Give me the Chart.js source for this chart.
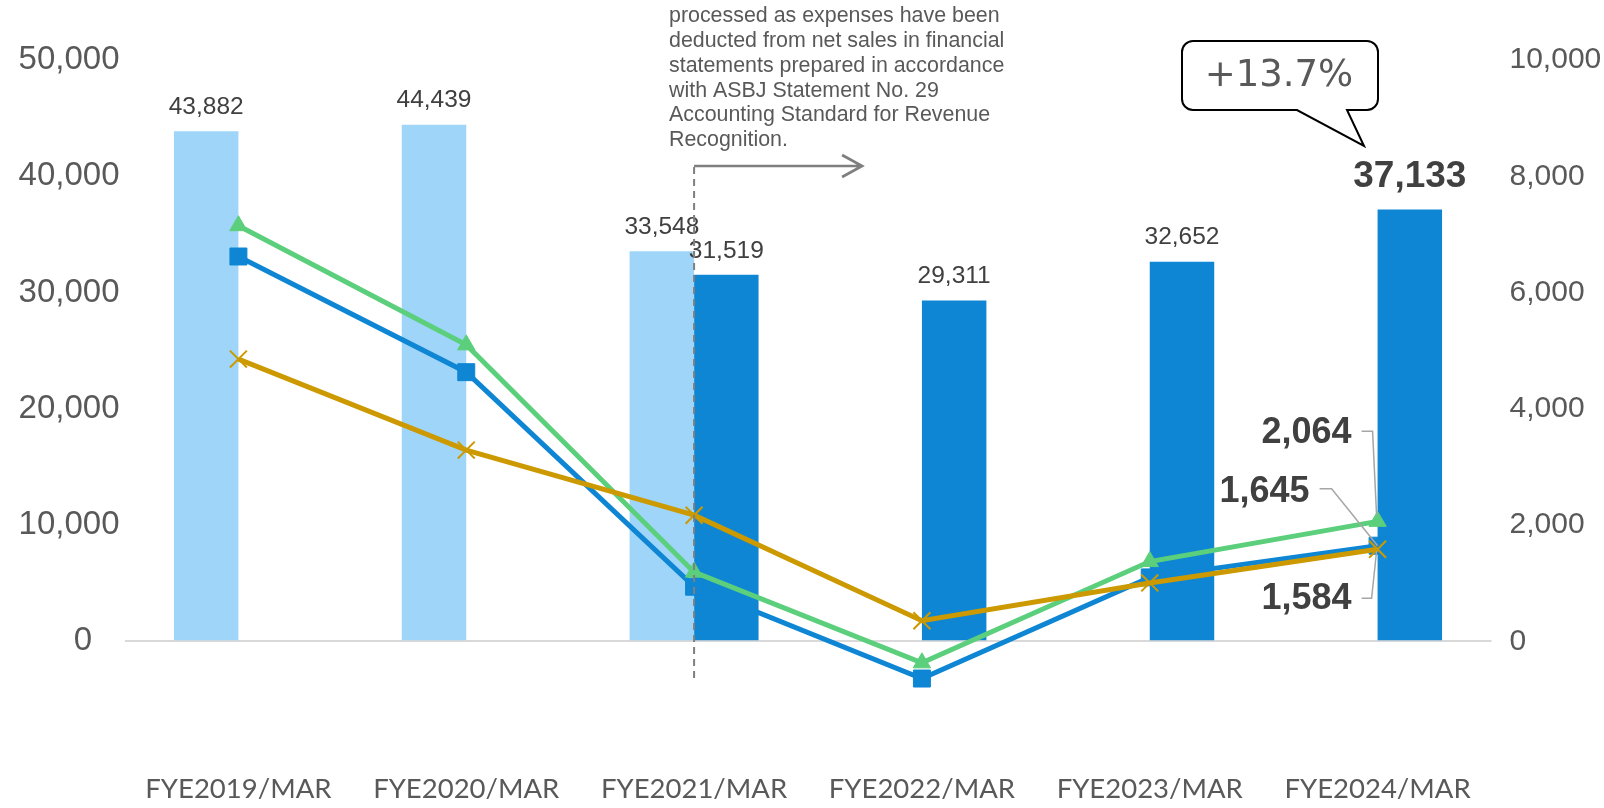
<!DOCTYPE html>
<html>
<head>
<meta charset="utf-8">
<script src="https://cdn.jsdelivr.net/npm/chart.js@4.4.1/dist/chart.umd.min.js"></script>
<style>
  html, body { margin: 0; padding: 0; background: #fff; }
  #wrap { width: 1604px; height: 808px; }
</style>
</head>
<body>
<div id="wrap"><canvas id="chart"></canvas></div>
<script>
// fiscal years on the x axis
const categories = ['FYE2019/MAR', 'FYE2020/MAR', 'FYE2021/MAR', 'FYE2022/MAR', 'FYE2023/MAR', 'FYE2024/MAR'];

// net sales (left axis), old and new revenue standard
const salesOld = [43882, 44439, 33548, null, null, null];
const salesNew = [null, null, 31519, 29311, 32652, 37133];

// profit lines (right axis)
const profitBlue = [6620, 4630, 940, -640, 1100, 1645];
const profitGreen = [7150, 5100, 1190, -370, 1372, 2064];
const profitGold = [4855, 3290, 2170, 355, 1005, 1584];

// axis ranges
const leftRange = [-10000, 50000, 10000];
const rightRange = [-2000, 10000, 2000];

const noteLines = [
  'processed as expenses have been',
  'deducted from net sales in financial',
  'statements prepared in accordance',
  'with ASBJ Statement No. 29',
  'Accounting Standard for Revenue',
  'Recognition.'
];
const growthText = '+13.7%';

const fmt = v => v.toLocaleString('en-US');
const ARIAL = '"Liberation Sans", Arial, sans-serif';

const overlay = {
  id: 'overlay',
  afterDatasetsDraw(chart) {
    const ctx = chart.ctx;
    ctx.save();

    // value labels on bars
    [0, 1].forEach(di => {
      const meta = chart.getDatasetMeta(di);
      const data = chart.data.datasets[di].data;
      meta.data.forEach((bar, i) => {
        if (data[i] == null) return;
        const last = di === 1 && i === data.length - 1;
        ctx.fillStyle = '#404040';
        ctx.textAlign = 'center';
        ctx.textBaseline = 'middle';
        ctx.font = last ? 'bold 37px ' + ARIAL : '24.5px ' + ARIAL;
        ctx.fillText(fmt(data[i]), bar.x, bar.y - (last ? 33 : 24));
      });
    });

    // labels for last line points with leader lines
    const n = categories.length - 1;
    const pt = di => chart.getDatasetMeta(di).data[n];
    const pGreen = pt(3), pBlue = pt(2), pGold = pt(4);
    ctx.strokeStyle = '#a6a6a6';
    ctx.lineWidth = 1.5;
    ctx.beginPath();
    ctx.moveTo(pGreen.x - 16, pGreen.y - 90);
    ctx.lineTo(pGreen.x - 5, pGreen.y - 90);
    ctx.lineTo(pGreen.x - 1, pGreen.y - 6);
    ctx.moveTo(pBlue.x - 58, pBlue.y - 57);
    ctx.lineTo(pBlue.x - 46, pBlue.y - 57);
    ctx.lineTo(pBlue.x, pBlue.y);
    ctx.moveTo(pGold.x - 16, pGold.y + 49);
    ctx.lineTo(pGold.x - 6, pGold.y + 49);
    ctx.lineTo(pGold.x - 1, pGold.y + 2);
    ctx.stroke();

    ctx.fillStyle = '#404040';
    ctx.font = 'bold 36px ' + ARIAL;
    ctx.textAlign = 'right';
    ctx.textBaseline = 'middle';
    ctx.fillText(fmt(profitGreen[n]), pGreen.x - 26, pGreen.y - 88);
    ctx.fillText(fmt(profitBlue[n]), pBlue.x - 68, pBlue.y - 54);
    ctx.fillText(fmt(profitGold[n]), pGold.x - 26, pGold.y + 50);
    ctx.restore();
  },
  afterDraw(chart) {
    const ctx = chart.ctx;
    const x = chart.scales.x;
    const cx = x.getPixelForValue(2);
    ctx.save();

    // note text
    ctx.fillStyle = '#595959';
    ctx.font = '21.4px ' + ARIAL;
    ctx.textAlign = 'left';
    ctx.textBaseline = 'middle';
    noteLines.forEach((t, i) => ctx.fillText(t, 669, 16 + i * 24.9));

    // dashed divider and arrow
    ctx.strokeStyle = '#7f7f7f';
    ctx.lineWidth = 2;
    ctx.setLineDash([7, 5]);
    ctx.beginPath();
    ctx.moveTo(cx, 167);
    ctx.lineTo(cx, 681);
    ctx.stroke();
    ctx.setLineDash([]);
    ctx.lineWidth = 2.7;
    ctx.beginPath();
    ctx.moveTo(cx, 166);
    ctx.lineTo(cx + 168, 166);
    ctx.moveTo(cx + 148, 155);
    ctx.lineTo(cx + 168, 166);
    ctx.lineTo(cx + 148, 177);
    ctx.stroke();

    // speech bubble
    const bx = 1182, by = 41, bw = 196, bh = 69, r = 11;
    ctx.beginPath();
    ctx.moveTo(bx + r, by);
    ctx.lineTo(bx + bw - r, by);
    ctx.arcTo(bx + bw, by, bx + bw, by + r, r);
    ctx.lineTo(bx + bw, by + bh - r);
    ctx.arcTo(bx + bw, by + bh, bx + bw - r, by + bh, r);
    ctx.lineTo(1347, by + bh);
    ctx.lineTo(1364, 146);
    ctx.lineTo(1297, by + bh);
    ctx.lineTo(bx + r, by + bh);
    ctx.arcTo(bx, by + bh, bx, by + bh - r, r);
    ctx.lineTo(bx, by + r);
    ctx.arcTo(bx, by, bx + r, by, r);
    ctx.closePath();
    ctx.fillStyle = '#ffffff';
    ctx.fill();
    ctx.strokeStyle = '#000000';
    ctx.lineWidth = 2;
    ctx.stroke();
    ctx.fillStyle = '#595959';
    ctx.font = '37px "DejaVu Sans", sans-serif';
    ctx.textAlign = 'center';
    ctx.textBaseline = 'middle';
    ctx.fillText(growthText, bx + bw / 2 - 1, by + bh / 2 + 1);
    ctx.restore();
  }
};

const lineBase = {
  type: 'line',
  yAxisID: 'y1',
  borderWidth: 5,
  pointBorderWidth: 1,
  tension: 0
};

new Chart(document.getElementById('chart'), {
  type: 'bar',
  data: {
    labels: categories,
    datasets: [
      { data: salesOld, backgroundColor: '#9ED5F8', yAxisID: 'y', order: 4 },
      { data: salesNew, backgroundColor: '#0E86D4', yAxisID: 'y', order: 5 },
      { ...lineBase, data: profitBlue, borderColor: '#0E86D4', backgroundColor: '#0E86D4',
        pointStyle: 'rect', pointRadius: 12, order: 3 },
      { ...lineBase, data: profitGreen, borderColor: '#5BCF7B', backgroundColor: '#5BCF7B',
        pointStyle: 'triangle', pointRadius: 10, order: 2 },
      { ...lineBase, data: profitGold, borderColor: '#CC9A00', backgroundColor: '#CC9A00',
        pointStyle: 'crossRot', pointRadius: 12, pointBorderWidth: 2, order: 1 }
    ]
  },
  options: {
    responsive: true,
    maintainAspectRatio: false,
    animation: false,
    categoryPercentage: 0.566,
    barPercentage: 1,
    layout: { padding: { top: 60, left: 0, right: 0, bottom: 0 } },
    plugins: {
      legend: { display: false },
      tooltip: { enabled: false }
    },
    scales: {
      x: {
        grid: { display: false, drawTicks: false },
        border: { display: false },
        ticks: { color: '#595959', font: { family: 'Lato', size: 27.5 }, padding: 15, maxRotation: 0 },
        afterFit: s => { s.height = 50.4; }
      },
      y: {
        position: 'left',
        min: leftRange[0], max: leftRange[1],
        ticks: {
          stepSize: leftRange[2], color: '#595959', padding: 5,
          font: { family: 'Liberation Sans', size: 33 },
          callback: v => v < 0 ? '' : (v === 0 ? '0   ' : fmt(v))
        },
        grid: {
          drawTicks: false,
          lineWidth: 2,
          color: c => c.tick && c.tick.value === 0 ? '#d9d9d9' : 'rgba(0,0,0,0)'
        },
        border: { display: false },
        afterFit: s => { s.width = 124.5; }
      },
      y1: {
        position: 'right',
        min: rightRange[0], max: rightRange[1],
        ticks: {
          stepSize: rightRange[2], color: '#595959', padding: 18,
          font: { family: 'Liberation Sans', size: 30 },
          callback: v => v < 0 ? '' : fmt(v)
        },
        grid: { drawOnChartArea: false, drawTicks: false },
        border: { display: false },
        afterFit: s => { s.width = 112.5; }
      }
    }
  },
  plugins: [overlay]
});
</script>
</body>
</html>
